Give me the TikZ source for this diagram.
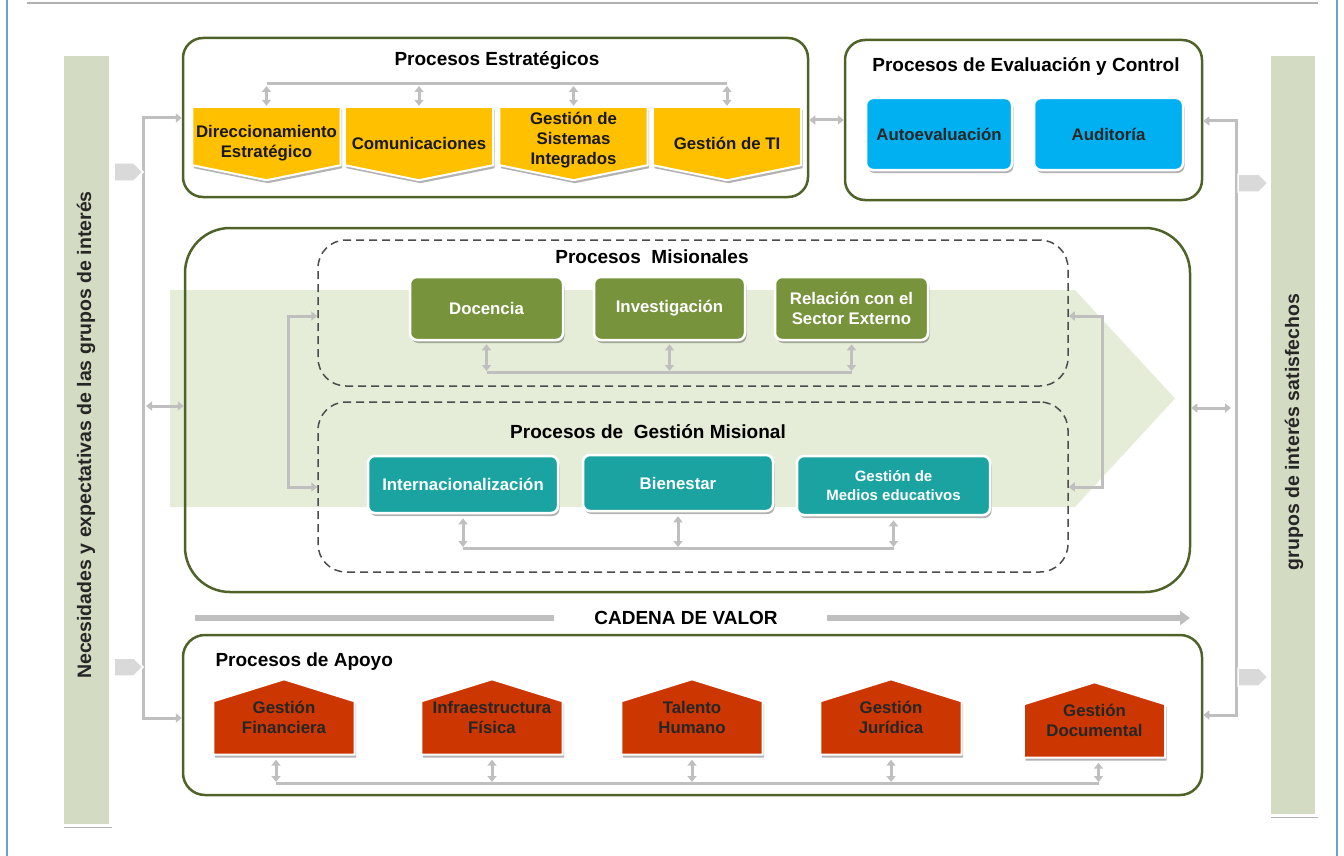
\documentclass[tikz,border=0pt]{standalone}
\usepackage{fontspec}
\setmainfont{Liberation Sans}
\usetikzlibrary{arrows.meta,shadows,calc,fit}
\pgfdeclarelayer{back}
\pgfdeclarelayer{mid}
\pgfsetlayers{back,mid,main}
\definecolor{cBorder}{HTML}{4F6228}
\definecolor{cBar}{HTML}{D3DBC2}
\definecolor{cBand}{HTML}{E5EDD8}
\definecolor{cYellow}{HTML}{FFC000}
\definecolor{cBlue}{HTML}{00B0F0}
\definecolor{cOlive}{HTML}{77933C}
\definecolor{cTeal}{HTML}{1BA3A2}
\definecolor{cRed}{HTML}{CC3600}
\definecolor{cGray}{HTML}{BFBFBF}
\definecolor{cPent}{HTML}{D9D9D9}
\definecolor{cFrame}{HTML}{6F9FD8}
\begin{document}
\begin{tikzpicture}[x=1pt,y=-1pt,
  >={Triangle[width=9pt,length=6pt]},
  lbl/.style={font=\bfseries\fontsize{16.8}{20}\selectfont, align=center},
  ttl/.style={font=\bfseries\fontsize{19}{22}\selectfont},
  bigbox/.style={draw=cBorder, line width=2.5pt, rounded corners=20pt, inner sep=0pt},
  dashbox/.style={draw=black!70, line width=1.5pt, dash pattern=on 8pt off 5pt, rounded corners=28pt, inner sep=0pt},
  shad/.style={drop shadow={shadow xshift=1.5pt, shadow yshift=-3pt, fill=black, opacity=0.3}},
  rbox/.style={lbl, rounded corners=7pt, draw=white, line width=2.5pt, shad, inner sep=0pt},
  conn/.style={draw=cGray, line width=3pt},
  pent/.style={fill=cPent, draw=white, line width=1.5pt},
  barbox/.style={fill=cBar, draw=white, line width=3pt, shad, inner sep=0pt},
  bartext/.style={font=\bfseries\fontsize{19.5}{22}\selectfont, rotate=90, text=black!85}
]
\useasboundingbox (0,0) rectangle (1344,856);
% frame
\draw[cFrame, line width=1.5pt] (7,0) -- (7,856);
\draw[cFrame, line width=1.5pt] (1337,0) -- (1337,856);
\draw[gray!60, line width=1.5pt] (27,3) -- (1318,3);

% side bars
\node[barbox, fit={(62,55)(110,825)}] (lbar) {};
\node[bartext] (ltext) at (86,435) {Necesidades y expectativas de las grupos de interés};
\node[barbox, fit={(1269,55)(1316,815)}] (rbar) {};
\node[bartext] (rtext) at (1294,432) {grupos de interés satisfechos};

% band
\begin{pgfonlayer}{back}
\fill[cBand] (170,290) -- (1075,290) -- (1175,398.5) -- (1075,507) -- (170,507) -- cycle;
\end{pgfonlayer}

% big boxes
\node[bigbox, fit={(183,38)(808,197)}] (est) {};
\node[bigbox, fit={(845,40)(1202,200)}] (ev) {};
\node[bigbox, rounded corners=45pt, fit={(185,228)(1190,592)}] (mis) {};
\node[bigbox, rounded corners=22pt, fit={(183,635)(1202,795)}] (apo) {};
\node[dashbox, fit={(318,240)(1068,386)}] (dm) {};
\node[dashbox, fit={(318,402)(1068,572)}] (dg) {};

% titles
\node[ttl] (tEst) at (497,61) {Procesos Estratégicos};
\node[ttl] (tEv) at (1026,67) {Procesos de Evaluación y Control};
\node[ttl] (tMis) at (652,257) {Procesos\ \ Misionales};
\node[ttl] (tGM) at (648,432) {Procesos de\ \ Gestión Misional};
\node[ttl, anchor=west] (tAp) at (212,662) {Procesos de Apoyo};
\node[ttl] (cad) at (686,618) {CADENA DE VALOR};

% strategic shapes
\begin{scope}[every node/.style={lbl, minimum width=148pt, minimum height=73pt, text=black!90}]
\node (s1) at (266.5,143.5) {Direccionamiento\\Estratégico};
\node (s2) at (419,143.5) {Comunicaciones};
\node (s3) at (573.5,140) {Gestión de\\Sistemas\\Integrados};
\node (s4) at (727,143.5) {Gestión de TI};
\end{scope}
\begin{pgfonlayer}{mid}
\foreach \n in {s1,s2,s4}{
  \filldraw[fill=cYellow, draw=white, line width=2pt, shad] (\n.north west) -- (\n.north east) -- ($(\n.south east)+(0,-15)$) -- (\n.south) -- ($(\n.south west)+(0,-15)$) -- cycle;
}
\filldraw[fill=cYellow, draw=white, line width=2pt, shad] ($(s3.north west)+(0,3.5)$) -- ($(s3.north east)+(0,3.5)$) -- ($(s3.south east)+(0,-11.5)$) -- ($(s3.south)+(0,3.5)$) -- ($(s3.south west)+(0,-11.5)$) -- cycle;
\end{pgfonlayer}

% evaluation boxes
\node[rbox, fill=cBlue, text=black!85, minimum width=146pt, minimum height=72pt] (b1) at (939,134) {Autoevaluación};
\node[rbox, fill=cBlue, text=black!85, minimum width=149pt, minimum height=72pt] (b2) at (1108.5,134) {Auditoría};

% misionales boxes
\node[rbox, fill=cOlive, text=white, minimum width=153pt, minimum height=63pt] (d1) at (486.5,308.5) {Docencia};
\node[rbox, fill=cOlive, text=white, minimum width=151pt, minimum height=63pt] (d2) at (669.5,308.5) {Investigación};
\node[rbox, fill=cOlive, text=white, minimum width=153pt, minimum height=63pt] (d3) at (851.5,308.5) {Relación con el\\Sector Externo};

% gestion misional boxes
\node[rbox, fill=cTeal, text=white, minimum width=190pt, minimum height=57pt] (g1) at (463,484.5) {Internacionalización};
\node[rbox, fill=cTeal, text=white, minimum width=190pt, minimum height=56pt] (g2) at (678,483) {Bienestar};
\node[rbox, fill=cTeal, text=white, minimum width=193pt, minimum height=59pt, font=\bfseries\fontsize{15}{19}\selectfont] (g3) at (893.5,485.5) {Gestión de\\Medios educativos};

% apoyo houses
\begin{scope}[every node/.style={lbl, minimum width=141pt, minimum height=75pt, text=black!85}]
\node (r1) at (284,717) {Gestión\\Financiera};
\node (r2) at (492,717) {Infraestructura\\Física};
\node (r3) at (692,717) {Talento\\Humano};
\node (r4) at (891,717) {Gestión\\Jurídica};
\node (r5) at (1094.5,720) {Gestión\\Documental};
\end{scope}
\begin{pgfonlayer}{mid}
\foreach \n in {r1,r2,r3,r4,r5}{
  \filldraw[fill=cRed, draw=white, line width=2pt, shad] (\n.south west) -- (\n.south east) -- ($(\n.north east)+(0,22)$) -- (\n.north) -- ($(\n.north west)+(0,22)$) -- cycle;
}
\end{pgfonlayer}

% --- connectors ---
% strategic
\coordinate (eTop) at (0,84);
\draw[conn] (s1.north |- eTop) -- (s4.north |- eTop);
\foreach \n in {s1,s2,s4} \draw[conn,<->] ([yshift=-2pt]\n.north |- eTop) -- ([yshift=1pt]\n.north);
\draw[conn,<->] ([yshift=-2pt]s3.north |- eTop) -- ([yshift=-2.5pt]s3.north);
\coordinate (y120) at (0,120);
\draw[conn,<->] (est.east |- y120) -- (ev.west |- y120);

% left system
\coordinate (Lt) at (143,118);
\coordinate (Lb) at (143,718);
\coordinate (Lm) at (143,406);
\draw[conn,->] (Lm) -- (Lt) -- (est.west |- Lt);
\draw[conn,->] (Lm) -- (Lb) -- (apo.west |- Lb);
\draw[conn,<->] ([xshift=3pt]Lm) -- (mis.west |- Lm);
\draw[pent] (114,163) -- (134,163) -- (143,172) -- (134,181) -- (114,181) -- cycle;
\draw[pent] (114,658) -- (134,658) -- (143,667) -- (134,676) -- (114,676) -- cycle;

% right system
\coordinate (Rt) at (1236,121);
\coordinate (Rb) at (1236,715);
\coordinate (Rm) at (1236,408);
\draw[conn,->] (Rm) -- (Rt) -- (ev.east |- Rt);
\draw[conn,->] (Rm) -- (Rb) -- (apo.east |- Rb);
\draw[conn,<->] (mis.east |- Rm) -- ([xshift=-5pt]Rm);
\draw[pent] (1238,174) -- (1259,174) -- (1268,183) -- (1259,192) -- (1238,192) -- cycle;
\draw[pent] (1238,668) -- (1259,668) -- (1268,677) -- (1259,686) -- (1238,686) -- cycle;

% misionales
\coordinate (mY) at (0,372);
\draw[conn] (d1.south |- mY) -- (d3.south |- mY);
\foreach \n in {d1,d2,d3} \draw[conn,<->] ([yshift=-3pt]\n.south) -- ([yshift=1pt]\n.south |- mY);

% gestion misional
\coordinate (gY) at (0,548);
\draw[conn] (g1.south |- gY) -- (g3.south |- gY);
\foreach \n in {g1,g2,g3} \draw[conn,<->] ([yshift=-4pt]\n.south) -- ([yshift=1pt]\n.south |- gY);

% loops
\coordinate (lpA) at (288,316);
\coordinate (lpB) at (288,487);
\draw[conn,<->] (dm.west |- lpA) -- (lpA) -- (lpB) -- (dg.west |- lpB);
\coordinate (rpA) at (1102,316);
\coordinate (rpB) at (1102,487);
\draw[conn,<->] (dm.east |- rpA) -- (rpA) -- (rpB) -- (dg.east |- rpB);

% cadena de valor
\coordinate (cv1) at (195,618);
\coordinate (cv2) at (1190,618);
\draw[cGray, line width=6pt] (cv1) -- ([xshift=-37pt]cad.west);
\draw[cGray, line width=6pt, -{Triangle[width=14pt,length=10pt]}] ([xshift=46pt]cad.east) -- (cv2);

% apoyo
\coordinate (aY) at (0,783);
\draw[conn] ([xshift=-8pt]r1.south |- aY) -- ([xshift=4pt]r5.south |- aY);
\draw[conn,<->] ([yshift=-5pt,xshift=-8pt]r1.south) -- ([yshift=1pt,xshift=-8pt]r1.south |- aY);
\foreach \n in {r2,r3,r4} \draw[conn,<->] ([yshift=-5pt]\n.south) -- ([yshift=1pt]\n.south |- aY);
\draw[conn,<->] ([yshift=-5pt,xshift=4pt]r5.south) -- ([yshift=1pt,xshift=4pt]r5.south |- aY);
\end{tikzpicture}
\end{document}
